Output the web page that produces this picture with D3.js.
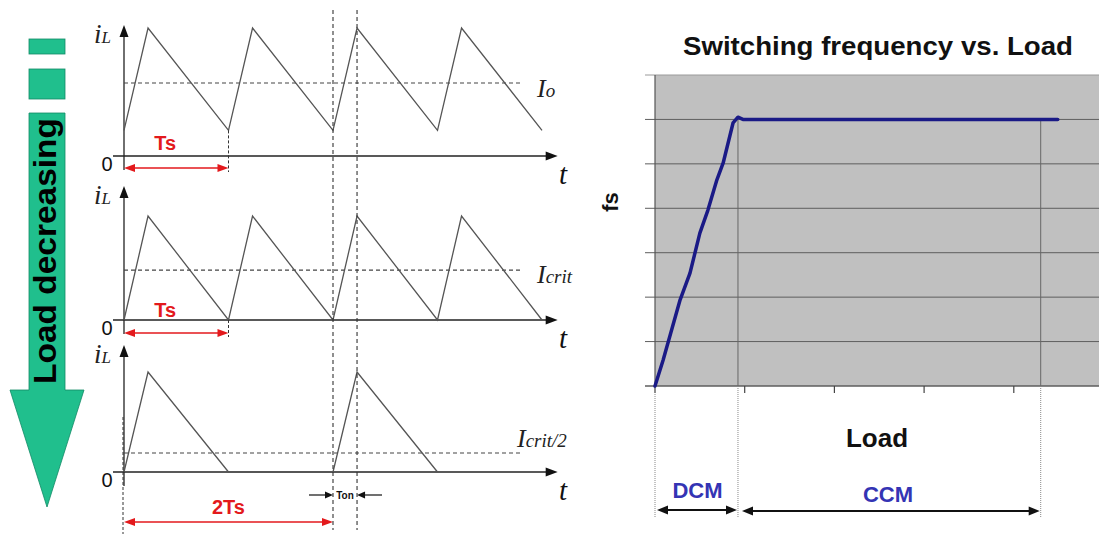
<!DOCTYPE html>
<html><head><meta charset="utf-8">
<script src="https://cdn.jsdelivr.net/npm/d3@7"></script>
<style>body{margin:0;background:#fff}svg{display:block}</style>
</head><body><svg id="c" width="1099" height="535"></svg>
<script>
// ---------- data ----------
const waveTimes1 = [0, 0.23, 1, 1.23, 2, 2.23, 3, 3.23, 4];
const waveCurr1  = [0.2, 1, 0.2, 1, 0.2, 1, 0.2, 1, 0.2];
const waveTimes2 = [0, 0.23, 1, 1.23, 2, 2.23, 3, 3.23, 4];
const waveCurr2  = [0, 1, 0, 1, 0, 1, 0, 1, 0];
const waveTimes3 = [0, 0.23, 1, 2, 2.23, 3];
const waveCurr3  = [0, 1, 0, 0, 1, 0];
const levelSubs   = ["o", "crit", "crit/2"];
const levelValues = [0.57, 0.48, 0.19];
const periodLabels = ["Ts", "Ts", "2Ts"];
const periodSpans  = [1, 1, 2];
const guideTimes = [2, 2.23];
const levelEnd = 3.79;
const timeEnd = 4.15;

const loadX = [0, 0.09, 0.28, 0.39, 0.5, 0.59, 0.69, 0.76, 0.87, 0.925, 0.98, 4.49];
const freqY = [0, 0.58, 1.94, 2.54, 3.44, 3.96, 4.64, 5.02, 5.92, 6.05, 6.0, 6.0];
const fsTicks = [0, 1, 2, 3, 4, 5, 6, 7];
const loadTicks = [0, 1, 2, 3, 4];
const dcmBoundary = 0.925, ccmBoundary = 4.3;
const chartTitle = "Switching frequency vs. Load";

// ---------- setup ----------
const svg = d3.select("#c");
const serif = "'Liberation Serif','DejaVu Serif',serif";
const sans = "'Liberation Sans',Arial,sans-serif";

function head(g, x, y, dir, len, w, color) {
  let pts;
  if (dir === "r") pts = [[x, y], [x - len, y - w / 2], [x - len, y + w / 2]];
  else if (dir === "l") pts = [[x, y], [x + len, y - w / 2], [x + len, y + w / 2]];
  else pts = [[x, y], [x - w / 2, y + len], [x + w / 2, y + len]];
  g.append("path").attr("d", d3.line()(pts) + "Z").attr("fill", color);
}

// ---------- green arrow ----------
const ga = svg.append("g");
const green = "#20bf8d", greenEdge = "#128a66";
ga.append("rect").attr("x", 29).attr("y", 39).attr("width", 36).attr("height", 15).attr("fill", green).attr("stroke", greenEdge).attr("stroke-width", 0.8);
ga.append("rect").attr("x", 29).attr("y", 69).attr("width", 36).attr("height", 30).attr("fill", green).attr("stroke", greenEdge).attr("stroke-width", 0.8);
ga.append("path").attr("d", d3.line()([[29,113],[65,113],[65,390],[84,390],[47,507],[10,390],[29,390]]) + "Z")
  .attr("fill", green).attr("stroke", greenEdge).attr("stroke-width", 0.8);
ga.append("text").attr("transform", "translate(56,251) rotate(-90)")
  .attr("text-anchor", "middle").attr("font-family", sans).attr("font-weight", "bold")
  .attr("font-size", 32).attr("textLength", 266).attr("lengthAdjust", "spacingAndGlyphs")
  .attr("fill", "#000").text("Load decreasing");

// ---------- waveform panels ----------
const xT = d3.scaleLinear().domain([0, 1]).range([124, 228.5]);
const panels = [
  { axisY: 156, peakY: 28, top: 25, times: waveTimes1, curr: waveCurr1, lblX: 537, lblOff: 14, arrowY: 168, tsY: 150 },
  { axisY: 320, peakY: 216, top: 186, times: waveTimes2, curr: waveCurr2, lblX: 537, lblOff: 13, arrowY: 333, tsY: 317 },
  { axisY: 472, peakY: 372, top: 345, times: waveTimes3, curr: waveCurr3, lblX: 517, lblOff: -6, arrowY: 522, tsY: 514 }
];
const red = "#e3191c";

panels.forEach((p, i) => {
  const g = svg.append("g");
  const y = d3.scaleLinear().domain([0, 1]).range([p.axisY, p.peakY]);
  g.append("line").attr("x1", xT(0)).attr("x2", xT(0)).attr("y1", p.top + 8).attr("y2", p.axisY + 14).attr("stroke", "#222").attr("stroke-width", 1.3);
  head(g, xT(0), p.top, "u", 12, 9, "#111");
  g.append("line").attr("x1", 113).attr("x2", xT(timeEnd) - 8).attr("y1", p.axisY).attr("y2", p.axisY).attr("stroke", "#222").attr("stroke-width", 1.3);
  head(g, xT(timeEnd), p.axisY, "r", 12, 9, "#111");
  g.append("line").attr("x1", xT(0)).attr("x2", xT(levelEnd)).attr("y1", y(levelValues[i])).attr("y2", y(levelValues[i]))
    .attr("stroke", "#444").attr("stroke-width", 1.1).attr("stroke-dasharray", "4,3");
  g.append("path").attr("d", d3.line().x(d => xT(d[0])).y(d => y(d[1]))(p.times.map((t, k) => [t, p.curr[k]])))
    .attr("fill", "none").attr("stroke", "#555").attr("stroke-width", 1.3);
  const il = g.append("text").attr("x", 94).attr("y", p.top + 18).attr("font-family", serif).attr("font-style", "italic").attr("fill", "#222");
  il.append("tspan").attr("font-size", 27).text("i");
  il.append("tspan").attr("font-size", 17).text("L");
  g.append("text").attr("x", 107).attr("y", p.axisY + 15).attr("text-anchor", "middle").attr("font-family", sans).attr("font-size", 20).attr("fill", "#111").text("0");
  g.append("text").attr("x", 563).attr("y", p.axisY + 28).attr("text-anchor", "middle").attr("font-family", serif).attr("font-style", "italic").attr("font-size", 29).attr("fill", "#111").text("t");
  const lv = g.append("text").attr("x", p.lblX).attr("y", y(levelValues[i]) + p.lblOff).attr("font-family", serif).attr("font-style", "italic").attr("fill", "#222");
  lv.append("tspan").attr("font-size", 26).text("I");
  lv.append("tspan").attr("font-size", 19).text(levelSubs[i]);
  const x0 = xT(0), x1 = xT(periodSpans[i]);
  g.append("line").attr("x1", x0 + 8).attr("x2", x1 - 8).attr("y1", p.arrowY).attr("y2", p.arrowY).attr("stroke", red).attr("stroke-width", 1.5);
  head(g, x0, p.arrowY, "l", 11, 8, red);
  head(g, x1, p.arrowY, "r", 11, 8, red);
  g.append("text").attr("x", (x0 + x1) / 2 + (i < 2 ? -11 : 0)).attr("y", p.tsY).attr("text-anchor", "middle")
    .attr("font-family", sans).attr("font-weight", "bold").attr("font-size", 20).attr("fill", red).text(periodLabels[i]);
  if (i < 2) {
    g.append("line").attr("x1", xT(1)).attr("x2", xT(1)).attr("y1", y(p.curr[2])).attr("y2", p.arrowY + 4)
      .attr("stroke", "#333").attr("stroke-width", 1).attr("stroke-dasharray", "3,2");
  } else {
    g.append("line").attr("x1", xT(0) - 1).attr("x2", xT(0) - 1).attr("y1", 417).attr("y2", 534)
      .attr("stroke", "#333").attr("stroke-width", 1).attr("stroke-dasharray", "3,2");
  }
});

guideTimes.forEach(t => {
  svg.append("line").attr("x1", xT(t)).attr("x2", xT(t)).attr("y1", 10).attr("y2", 530)
    .attr("stroke", "#333").attr("stroke-width", 1.1).attr("stroke-dasharray", "4,3");
});
{
  const g = svg.append("g");
  const a = xT(guideTimes[0]), b = xT(guideTimes[1]);
  g.append("line").attr("x1", a - 24).attr("x2", a - 6).attr("y1", 495).attr("y2", 495).attr("stroke", "#111").attr("stroke-width", 1.2);
  head(g, a, 495, "r", 8, 7, "#111");
  g.append("line").attr("x1", b + 25).attr("x2", b + 6).attr("y1", 495).attr("y2", 495).attr("stroke", "#111").attr("stroke-width", 1.2);
  head(g, b, 495, "l", 8, 7, "#111");
  g.append("text").attr("x", (a + b) / 2).attr("y", 499).attr("text-anchor", "middle").attr("font-family", sans)
    .attr("font-weight", "bold").attr("font-size", 10).attr("fill", "#111").text("Ton");
}

// ---------- right chart ----------
const xL = d3.scaleLinear().domain([0, 5]).range([655, 1103.5]);
const yF = d3.scaleLinear().domain([0, 7]).range([386, 75]);
const rc = svg.append("g");
rc.append("rect").attr("x", xL(0)).attr("y", yF(7)).attr("width", 1099 - xL(0)).attr("height", yF(0) - yF(7)).attr("fill", "#c0c0c0");
fsTicks.forEach(v => {
  rc.append("line").attr("x1", 645).attr("x2", 1099).attr("y1", yF(v)).attr("y2", yF(v))
    .attr("stroke", v === 7 ? "#9a9a9a" : "#5e5e5e").attr("stroke-width", v === 0 ? 1.6 : 1);
});
rc.append("line").attr("x1", xL(0)).attr("x2", xL(0)).attr("y1", yF(7)).attr("y2", yF(0)).attr("stroke", "#555").attr("stroke-width", 1.2);
loadTicks.forEach(v => {
  rc.append("line").attr("x1", xL(v)).attr("x2", xL(v)).attr("y1", yF(0)).attr("y2", yF(0) + 7).attr("stroke", "#444").attr("stroke-width", 1.2);
});
[dcmBoundary, ccmBoundary].forEach(v => {
  rc.append("line").attr("x1", xL(v)).attr("x2", xL(v)).attr("y1", yF(6)).attr("y2", yF(0)).attr("stroke", "#666").attr("stroke-width", 1);
});
[0, dcmBoundary, ccmBoundary].forEach(v => {
  rc.append("line").attr("x1", xL(v)).attr("x2", xL(v)).attr("y1", yF(0)).attr("y2", 517).attr("stroke", "#888").attr("stroke-width", 1).attr("stroke-dasharray", "1,1");
});
rc.append("path").attr("d", d3.line().x(d => xL(d[0])).y(d => yF(d[1]))(loadX.map((x, k) => [x, freqY[k]])))
  .attr("fill", "none").attr("stroke", "#1a1a86").attr("stroke-width", 3.5).attr("stroke-linejoin", "round").attr("stroke-linecap", "round");

rc.append("text").attr("x", 878).attr("y", 55).attr("text-anchor", "middle").attr("font-family", sans).attr("font-weight", "bold")
  .attr("font-size", 25).attr("textLength", 390).attr("lengthAdjust", "spacingAndGlyphs").attr("fill", "#111").text(chartTitle);
rc.append("text").attr("transform", "translate(618,202) rotate(-90)").attr("text-anchor", "middle").attr("font-family", sans)
  .attr("font-weight", "bold").attr("font-size", 22).attr("fill", "#111").text("fs");
rc.append("text").attr("x", 877).attr("y", 447).attr("text-anchor", "middle").attr("font-family", sans)
  .attr("font-weight", "bold").attr("font-size", 26).attr("fill", "#111").text("Load");
const blue = "#3434b4";
rc.append("text").attr("x", (xL(0) + xL(dcmBoundary)) / 2 + 1).attr("y", 498).attr("text-anchor", "middle").attr("font-family", sans)
  .attr("font-weight", "bold").attr("font-size", 22).attr("fill", blue).text("DCM");
rc.append("text").attr("x", 888).attr("y", 502).attr("text-anchor", "middle").attr("font-family", sans)
  .attr("font-weight", "bold").attr("font-size", 22).attr("fill", blue).text("CCM");
[[xL(0) + 2, xL(dcmBoundary) - 1, 510], [xL(dcmBoundary) + 4, xL(ccmBoundary) - 1, 511]].forEach(([a, b, yy]) => {
  rc.append("line").attr("x1", a + 8).attr("x2", b - 8).attr("y1", yy).attr("y2", yy).attr("stroke", "#111").attr("stroke-width", 2);
  head(rc, a, yy, "l", 11, 9, "#111");
  head(rc, b, yy, "r", 11, 9, "#111");
});
</script></body></html>
